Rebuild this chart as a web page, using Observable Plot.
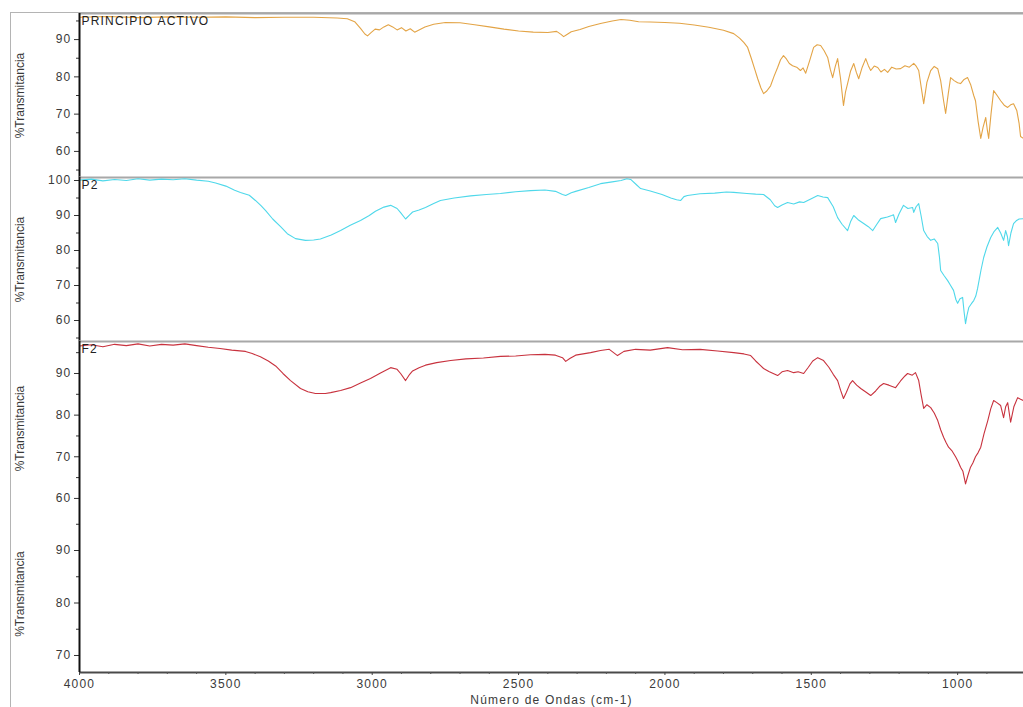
<!DOCTYPE html>
<html>
<head>
<meta charset="utf-8">
<script src="https://cdn.jsdelivr.net/npm/d3@7"></script>
<script src="https://cdn.jsdelivr.net/npm/@observablehq/plot@0.6"></script>
<style>
  body { margin: 0; background: #fff; }
  #chart { position: relative; width: 1023px; height: 707px; overflow: hidden; }
  #frame { position: absolute; left: 10px; top: 12px; right: -4px; bottom: -4px;
           border-left: 1.5px solid #b4b4b4; border-top: 1.5px solid #b4b4b4; }
  .panel { position: absolute; left: 0; }
  .panel text { letter-spacing: 1.2px; }
  .panel g[aria-label="y-axis label"] text { letter-spacing: 0; }
</style>
</head>
<body>
<div id="chart"><div id="frame"></div></div>
<script>
// Infrared spectra (% transmittance vs. wavenumber, cm-1)

// Active ingredient
const wnPA = [4000,3900,3800,3700,3600,3500,3400,3300,3200,3120,3085,3060,3040,3025,3016,3005,2990,2975,2960,2945,2930,2915,2900,2885,2870,2855,2840,2820,2790,2750,2700,2650,2600,2550,2500,2450,2400,2370,2355,2346,2336,2320,2290,2260,2220,2180,2150,2120,2090,2050,2000,1950,1900,1850,1800,1765,1745,1730,1718,1705,1693,1683,1672,1663,1652,1639,1627,1615,1605,1595,1585,1575,1564,1550,1537,1528,1519,1505,1492,1480,1468,1456,1444,1435,1427,1418,1410,1400,1390,1383,1376,1366,1355,1346,1338,1326,1314,1305,1297,1285,1273,1262,1250,1239,1225,1210,1195,1180,1165,1150,1141,1133,1124,1116,1105,1092,1080,1068,1058,1048,1041,1032,1024,1012,1000,990,978,966,955,945,939,930,921,913,904,899,894,886,877,865,853,841,829,819,809,798,790,785,775];
const tPA = [96.0,96.2,95.9,96.1,96.0,96.1,95.9,96.0,96.0,95.8,95.6,94.8,93.0,91.5,91.0,91.8,92.8,92.6,93.4,94.0,93.4,92.6,93.2,92.3,92.9,92.0,92.6,93.4,94.1,94.6,94.5,94.0,93.4,92.8,92.3,92.0,91.9,92.2,91.4,90.8,91.3,92.1,92.7,93.5,94.3,95.0,95.4,95.2,94.8,94.7,94.6,94.4,93.9,93.3,92.5,91.6,90.4,89.2,88.0,85.0,82.0,79.5,77.0,75.5,76.2,77.6,80.2,82.5,84.6,85.7,84.8,83.6,83.0,82.6,81.7,82.4,81.0,84.5,87.9,88.6,88.4,87.0,85.2,82.0,79.8,82.8,84.9,79.5,72.3,76.0,78.2,81.5,83.6,81.2,79.5,82.6,84.9,83.0,81.7,82.9,82.5,81.3,82.0,81.2,82.6,82.1,82.2,83.0,82.6,83.6,82.8,81.7,77.0,72.8,78.5,81.7,82.8,82.2,79.0,73.6,70.2,75.5,79.8,79.0,78.4,78.2,79.3,79.8,77.8,75.0,73.6,68.0,63.5,66.5,69.1,66.0,63.5,70.0,76.3,75.0,73.6,72.4,71.8,72.5,72.8,71.0,67.5,64.0,63.5];

// Sample P2
const wnP2 = [4000,3960,3920,3880,3840,3800,3760,3720,3680,3640,3600,3560,3535,3500,3470,3450,3420,3399,3380,3364,3340,3313,3290,3262,3228,3200,3177,3140,3108,3075,3040,3010,2989,2960,2937,2915,2903,2886,2872,2862,2840,2818,2790,2767,2720,2664,2610,2562,2510,2459,2410,2374,2350,2339,2320,2305,2260,2220,2180,2150,2130,2117,2100,2083,2050,2010,1980,1960,1946,1935,1923,1880,1830,1790,1765,1720,1690,1663,1640,1625,1615,1600,1581,1560,1540,1526,1500,1478,1460,1444,1425,1410,1395,1376,1366,1355,1340,1321,1305,1290,1276,1263,1240,1225,1219,1212,1200,1185,1170,1154,1150,1142,1133,1125,1116,1104,1092,1080,1068,1062,1058,1046,1034,1024,1014,1006,1000,992,983,978,973,968,962,953,945,938,932,920,911,900,887,875,863,853,843,836,830,826,818,809,800,790,775];
const tP2 = [100.1,100.4,99.9,100.3,100.0,100.5,100.1,100.4,100.2,100.5,100.1,99.8,99.3,98.4,97.2,96.6,95.8,94.3,92.8,91.4,89.0,86.8,84.8,83.4,82.9,83.0,83.3,84.4,85.7,87.2,88.6,90.0,91.2,92.4,92.9,92.0,90.8,89.0,90.2,91.0,91.6,92.3,93.4,94.3,95.0,95.6,96.0,96.3,96.8,97.1,97.3,96.9,96.0,95.7,96.5,96.9,98.0,99.1,99.6,100.0,100.5,100.3,99.0,97.7,97.0,96.0,95.0,94.5,94.3,95.4,95.7,96.2,96.4,96.7,96.6,96.3,96.1,96.0,94.5,92.8,92.3,93.0,93.7,93.3,93.9,93.7,94.8,95.7,95.3,95.1,92.5,89.4,87.5,85.7,88.2,90.0,88.8,87.7,86.8,85.7,87.5,89.1,89.6,90.0,90.2,88.0,90.5,92.9,92.0,92.3,90.9,92.5,93.4,90.0,85.7,84.0,82.9,83.3,82.0,78.0,74.3,72.8,71.4,70.0,68.6,66.0,64.9,66.2,66.6,62.5,59.1,61.5,63.7,64.8,65.7,67.0,69.1,74.5,78.0,81.0,83.7,85.5,86.6,85.0,82.9,85.7,84.0,81.4,85.0,87.7,88.5,89.0,89.1];

// Sample F2
const wnF2 = [4000,3960,3920,3880,3840,3800,3760,3720,3680,3640,3600,3560,3520,3480,3433,3410,3382,3355,3330,3305,3279,3245,3220,3194,3160,3142,3108,3074,3040,3006,2970,2937,2915,2903,2886,2872,2862,2840,2818,2780,2732,2680,2620,2562,2510,2459,2410,2374,2350,2339,2325,2305,2254,2220,2190,2162,2140,2100,2050,1991,1940,1880,1820,1765,1730,1707,1690,1675,1663,1645,1630,1615,1600,1581,1560,1545,1526,1510,1495,1478,1458,1440,1425,1410,1400,1390,1380,1368,1359,1345,1331,1315,1297,1280,1265,1253,1235,1212,1195,1180,1171,1155,1144,1133,1125,1116,1105,1092,1080,1068,1058,1048,1040,1031,1020,1007,998,990,982,973,965,956,948,939,930,921,910,897,887,877,866,853,843,836,829,819,808,795,785,775];
const tF2 = [96.6,96.9,96.4,97.0,96.7,97.1,96.6,97.0,96.8,97.1,96.7,96.3,96.0,95.6,95.3,94.8,94.0,93.0,91.8,90.0,88.3,86.4,85.6,85.2,85.2,85.4,85.9,86.6,87.7,88.8,90.2,91.4,91.0,90.0,88.3,89.8,90.6,91.4,92.0,92.6,93.1,93.5,93.7,94.1,94.2,94.5,94.6,94.4,93.8,92.9,93.6,94.4,95.0,95.5,95.8,94.3,95.3,95.8,95.6,96.2,95.7,95.8,95.4,95.0,94.7,94.3,93.0,92.0,91.2,90.5,90.0,89.5,90.4,90.7,90.2,90.4,90.0,91.5,93.0,93.8,93.1,91.5,89.8,88.3,86.0,84.0,85.5,87.5,88.3,87.2,86.4,85.6,84.7,85.8,87.0,87.6,87.2,86.6,88.2,89.4,90.0,89.6,90.2,88.3,85.0,81.6,82.5,81.8,80.5,78.7,76.5,74.7,73.5,72.3,71.5,70.0,68.8,67.5,66.5,63.5,65.5,67.5,68.5,70.0,71.0,72.3,75.5,78.7,81.5,83.5,83.0,82.3,79.4,82.0,83.0,78.3,82.0,84.2,83.8,83.5];

// Axis ticks
const xTicks = [4000, 3500, 3000, 2500, 2000, 1500, 1000];
const yTicksPA = [60, 70, 80, 90];
const yTicksP2 = [60, 70, 80, 90, 100];
const yTicksF2 = [60, 70, 80, 90];
const yTicksBlank = [70, 80, 90];

const seriesNames = ["PRINCIPIO ACTIVO", "P2", "F2"];
const seriesColors = ["#e3a446", "#4fd8ea", "#c8323e"];
const xTitle = "Número de Ondas (cm-1)";
const yTitle = "%Transmitancia";

const toRows = (wn, t) => wn.map((w, i) => ({wn: w, t: t[i]}));

// Stacked panels: [top px, height px, y domain]
const panels = [
  {name: seriesNames[0], rows: toRows(wnPA, tPA), color: seriesColors[0], top: 13, h: 164, y: [53, 97], ticks: yTicksPA},
  {name: seriesNames[1], rows: toRows(wnP2, tP2), color: seriesColors[1], top: 177, h: 164, y: [54, 100.86], ticks: yTicksP2},
  {name: seriesNames[2], rows: toRows(wnF2, tF2), color: seriesColors[2], top: 341, h: 174, y: [55.9, 97.68], ticks: yTicksF2},
  {name: null, rows: null, color: null, top: 515, h: 157, y: [66.76, 96.67], ticks: yTicksBlank, last: true}
];

const xDomain = [4000, 775];
const chart = document.getElementById("chart");

for (const p of panels) {
  const [y0, y1] = p.y;
  const minor = d3.range(Math.ceil(y0 / 5) * 5, y1, 5).filter(v => !p.ticks.includes(v));
  const marks = [
    Plot.axisY({ticks: minor, tickSize: 3, tickFormat: () => "", label: null, stroke: "#333"}),
    Plot.axisY({ticks: p.ticks, tickSize: 5, tickPadding: 3, tickFormat: "d", stroke: "#333", fill: "#3a3a3a",
                fontSize: 12, label: yTitle, labelAnchor: "center", labelOffset: 64, labelArrow: "none"}),
  ];
  if (!p.last) marks.push(Plot.ruleY([y1], {stroke: "#a8a8a8", strokeWidth: 2}));
  if (p.rows) marks.push(Plot.line(p.rows, {x: "wn", y: "t", stroke: p.color, strokeWidth: 1.1, clip: true}));
  if (p.name) marks.push(Plot.text([p.name], {frameAnchor: "top-left", dx: 2, dy: 3, fontSize: 12, fill: "#222"}));
  if (p.last) {
    marks.push(Plot.ruleY([y0], {stroke: "#4a4a4a", strokeWidth: 2}));
    marks.push(Plot.axisX({ticks: d3.range(900, 4001, 100).filter(v => !xTicks.includes(v)),
                           tickSize: 2, tickFormat: () => "", label: null, stroke: "#555"}));
    marks.push(Plot.axisX({ticks: xTicks, tickSize: 3, tickPadding: 4, tickFormat: "d", stroke: "#444", fill: "#3a3a3a",
                           fontSize: 12, label: xTitle, labelAnchor: "center", labelOffset: 31, labelArrow: "none"}));
  }
  marks.push(Plot.ruleX([4000], {stroke: "#111", strokeWidth: 2}));

  const svg = Plot.plot({
    width: 1023,
    height: p.h + (p.last ? 35 : 0),
    marginLeft: 79,
    marginRight: 0,
    marginTop: 0,
    marginBottom: p.last ? 35 : 0,
    x: {domain: xDomain, axis: p.last ? undefined : null},
    y: {domain: p.y},
    style: {fontFamily: "'Liberation Sans', Arial, sans-serif", fontSize: "12px", background: "transparent", overflow: "visible"},
    marks
  });
  svg.classList.add("panel");
  svg.style.top = p.top + "px";
  chart.appendChild(svg);
}
</script>
</body>
</html>
